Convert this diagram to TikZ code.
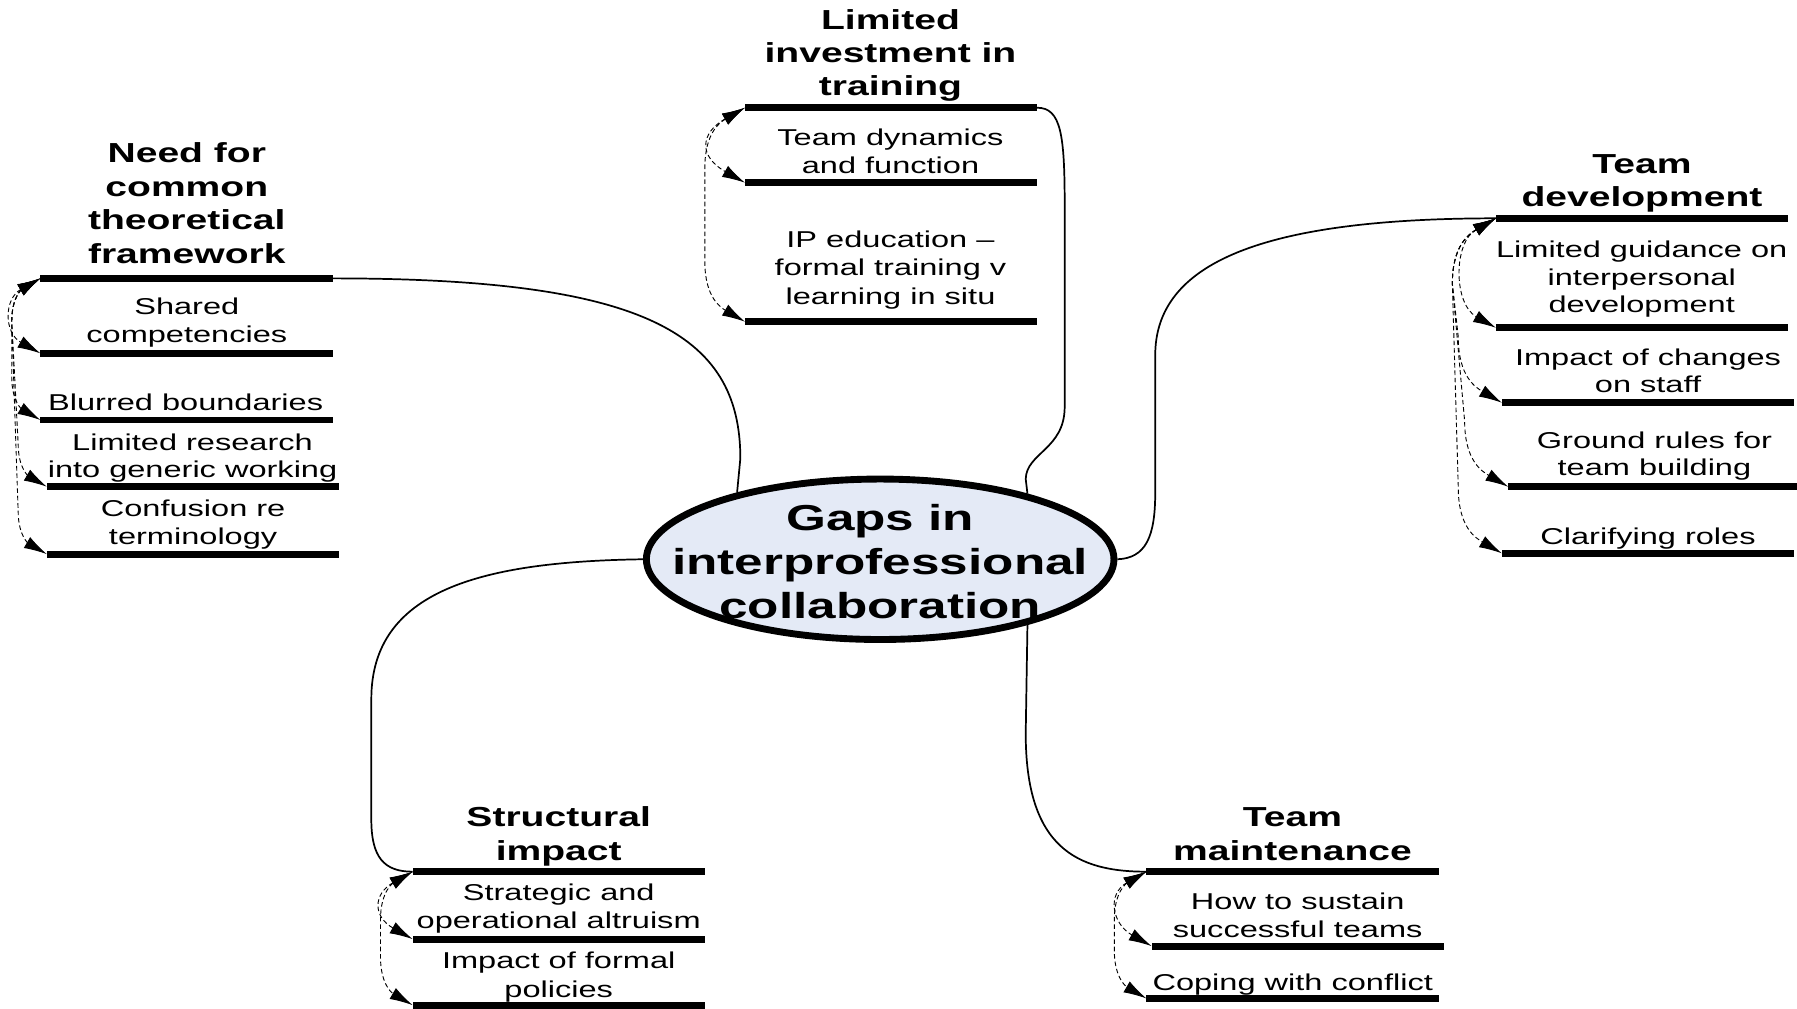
\documentclass[tikz,border=0pt]{standalone}
\usepackage{fontspec}
\setmainfont{Liberation Sans}[FakeStretch=1.42]
\usetikzlibrary{arrows.meta,calc,shapes.geometric}
\definecolor{corefill}{RGB}{228,234,246}
\newcommand\mlines[3]{\fontsize{#1}{#2}\selectfont\begin{tabular}[t]{@{}c@{}}#3\end{tabular}}
\newcommand\dshort[3]{\draw[dconn] (#1.west) .. controls ($(#1.west)+(-1.33*#3,-0.75*#3)$) and ($(#2.west)+(-1.33*#3,0.75*#3)$) .. (#2.west);}
\newcommand\dlong[3]{\draw[dconn] (#1.west) .. controls ($(#1.west)+(-0.6*#3,-0.35*#3)$) and ($(#1.west)+(-#3,-0.6*#3)$) .. ($(#1.west)+(-#3,-1.5*#3)$) -- ($(#2.west)+(-#3,1.5*#3)$) .. controls ($(#2.west)+(-#3,0.6*#3)$) and ($(#2.west)+(-0.6*#3,0.35*#3)$) .. (#2.west);}
\tikzset{
  ulbar/.style={fill=black, draw=none, inner sep=0pt, outer sep=0pt, minimum height=6pt, minimum width=#1},
  ulbar/.default=255pt,
  lbl/.style={inner sep=0pt, outer sep=0pt, anchor=base},
  hd/.style={lbl, font=\bfseries},
  link/.style={draw, line width=1.5pt},
  dconn/.style={draw, line width=0.8pt, dash pattern=on 4pt off 2.5pt, >={Latex[length=20pt,width=11pt]}, <->},
}
\begin{document}
\begin{tikzpicture}[x=1pt,y=1pt]
\useasboundingbox (0,0) rectangle (1568,-880);

% central node
\node[ellipse, draw, line width=6pt, fill=corefill, minimum width=408pt, minimum height=140pt, inner sep=0pt] (core) at (768,-488) {};
\node[hd] (coretxt) at (768,-462.5) {\mlines{31.5}{38.5}{Gaps in\\interprofessional\\collaboration}};

% top branch
\node[ulbar] (t0) at (777.5,-94) {};
\node[ulbar] (t1) at (777.5,-159.4) {};
\node[ulbar] (t2) at (777.5,-280.7) {};
\node[hd] (th) at (777,-25.7) {\mlines{24}{29}{Limited\\investment in\\training}};
\node[lbl] (tt1) at (777,-126.7) {\mlines{20}{24.3}{Team dynamics\\and function}};
\node[lbl] (tt2) at (777,-216.3) {\mlines{20}{24.5}{IP education --\\formal training v\\learning in situ}};

% left branch
\node[ulbar] (l0) at (162.75,-242.9) {};
\node[ulbar] (l1) at (162.75,-308.3) {};
\node[ulbar] (l2) at (162.75,-366.5) {};
\node[ulbar] (l3) at (168.35,-424.7) {};
\node[ulbar] (l4) at (168.35,-483.5) {};
\node[hd] (lh) at (163,-142.1) {\mlines{24}{29.2}{Need for\\common\\theoretical\\framework}};
\node[lbl] (lt1) at (163,-274.4) {\mlines{20}{24.5}{Shared\\competencies}};
\node[lbl] (lt2) at (162,-358.3) {\mlines{20}{24}{Blurred boundaries}};
\node[lbl] (lt3) at (168,-392.8) {\mlines{20}{23.8}{Limited research\\into generic working}};
\node[lbl] (lt4) at (168.5,-450.9) {\mlines{20}{23.8}{Confusion re\\terminology}};

% right branch
\node[ulbar] (r0) at (1432.75,-190.5) {};
\node[ulbar] (r1) at (1432.75,-286) {};
\node[ulbar] (r2) at (1437.95,-351.4) {};
\node[ulbar] (r3) at (1443.5,-424.7) {};
\node[ulbar] (r4) at (1437.95,-482.8) {};
\node[hd] (rh) at (1432.7,-151) {\mlines{24}{29}{Team\\development}};
\node[lbl] (rt1) at (1432.5,-224.9) {\mlines{20}{23.8}{Limited guidance on\\interpersonal\\development}};
\node[lbl] (rt2) at (1438,-318.5) {\mlines{20}{24}{Impact of changes\\on staff}};
\node[lbl] (rt3) at (1443.6,-391.2) {\mlines{20}{24}{Ground rules for\\team building}};
\node[lbl] (rt4) at (1438,-474.7) {\mlines{20}{23.3}{Clarifying roles}};

% bottom-left branch
\node[ulbar] (s0) at (487.5,-760.6) {};
\node[ulbar] (s1) at (487.5,-819.4) {};
\node[ulbar] (s2) at (487.5,-877) {};
\node[hd] (sh) at (487.5,-721.5) {\mlines{24}{29}{Structural\\impact}};
\node[lbl] (st1) at (487.5,-786) {\mlines{20}{24.6}{Strategic and\\operational altruism}};
\node[lbl] (st2) at (487.5,-845.5) {\mlines{20}{24.5}{Impact of formal\\policies}};

% bottom-right branch
\node[ulbar] (m0) at (1127.8,-760.6) {};
\node[ulbar] (m1) at (1132.3,-825.5) {};
\node[ulbar] (m2) at (1127.8,-871.2) {};
\node[hd] (mh) at (1127.8,-721.5) {\mlines{24}{29}{Team\\maintenance}};
\node[lbl] (mt1) at (1132.3,-793.6) {\mlines{20}{24.5}{How to sustain\\successful teams}};
\node[lbl] (mt2) at (1128,-864.5) {\mlines{20}{23.3}{Coping with conflict}};

% main connectors
\draw[link] (core.155.3) -- (646,-400) .. controls (646,-290) and (560,-242.9) .. (l0.east);
\draw[link] (core.24.5) -- (895,-418) .. controls (895.5,-395) and (929,-392) .. (929,-355) -- (929,-180) .. controls (929,-118) and (926,-94) .. (t0.east);
\draw[link] (core.east) .. controls (1000,-487) and (1008,-468) .. (1008,-430) -- (1008,-310) .. controls (1008,-230) and (1100,-190.5) .. (r0.west);
\draw[link] (core.west) .. controls (420,-490) and (324,-515) .. (324,-610) -- (324,-715) .. controls (324,-748) and (335,-760.6) .. (s0.west);
\draw[link] (core.-24.5) -- (895,-640) .. controls (895,-740) and (940,-760.6) .. (m0.west);

% dashed sub-connectors
\dshort{t0}{t1}{30}
\dlong{t0}{t2}{35}
\dshort{l0}{l1}{24}
\dlong{l0}{l2}{25}
\dlong{l0}{l3}{25}
\dlong{l0}{l4}{25}
\dshort{r0}{r1}{28}
\dlong{r0}{r2}{38}
\dlong{r0}{r3}{38}
\dlong{r0}{r4}{38}
\dshort{s0}{s1}{26}
\dlong{s0}{s2}{28}
\dshort{m0}{m1}{26}
\dlong{m0}{m2}{28}
\end{tikzpicture}
\end{document}
